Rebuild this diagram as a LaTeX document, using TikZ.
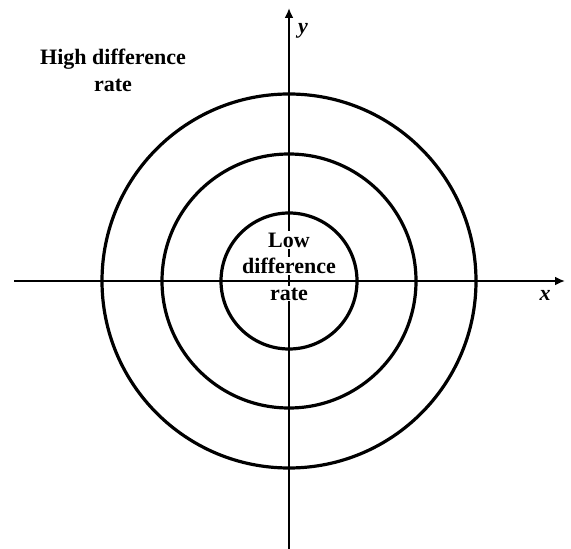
\documentclass[tikz,border=0pt]{standalone}
\usepackage{fontspec}
\setmainfont{Liberation Serif}
\usetikzlibrary{arrows.meta}
\begin{document}
\begin{tikzpicture}[>={Latex[length=5pt,width=4.5pt]}, x=0.5pt, y=-0.5pt,
  ring/.style={line width=1.6pt},
  axis/.style={line width=1pt, ->},
  lbl/.style={font=\fontsize{11}{13.5}\selectfont\bfseries, inner sep=0.6pt}]
\useasboundingbox (0,0) rectangle (571,549);
% centre and axis ends
\coordinate (o) at (289,281);
\coordinate (xl) at (14,281);
\coordinate (xr) at (565,281);
\coordinate (yb) at (289,549);
\coordinate (yt) at (289,8);
% axes
\draw[axis] (xl) -- (xr);
\draw[axis] (yb) -- (yt);
\node[lbl, font=\fontsize{11}{13}\selectfont\bfseries\itshape] (ylab) at (303,31) {y};
\node[lbl, font=\fontsize{11}{13}\selectfont\bfseries\itshape] (xlab) at (545,295) {x};
% circles
\draw[ring] (o) circle[radius=68];
\draw[ring] (o) circle[radius=127];
\draw[ring] (o) circle[radius=187];
% labels
\node[lbl, align=center] (high) at (113,70) {High difference\\rate};
\node[lbl, fill=white] (low1) at (289,240) {Low};
\node[lbl, fill=white] (low2) at (289,266) {difference};
\node[lbl, fill=white] (low3) at (289,294) {rate};
\end{tikzpicture}
\end{document}
